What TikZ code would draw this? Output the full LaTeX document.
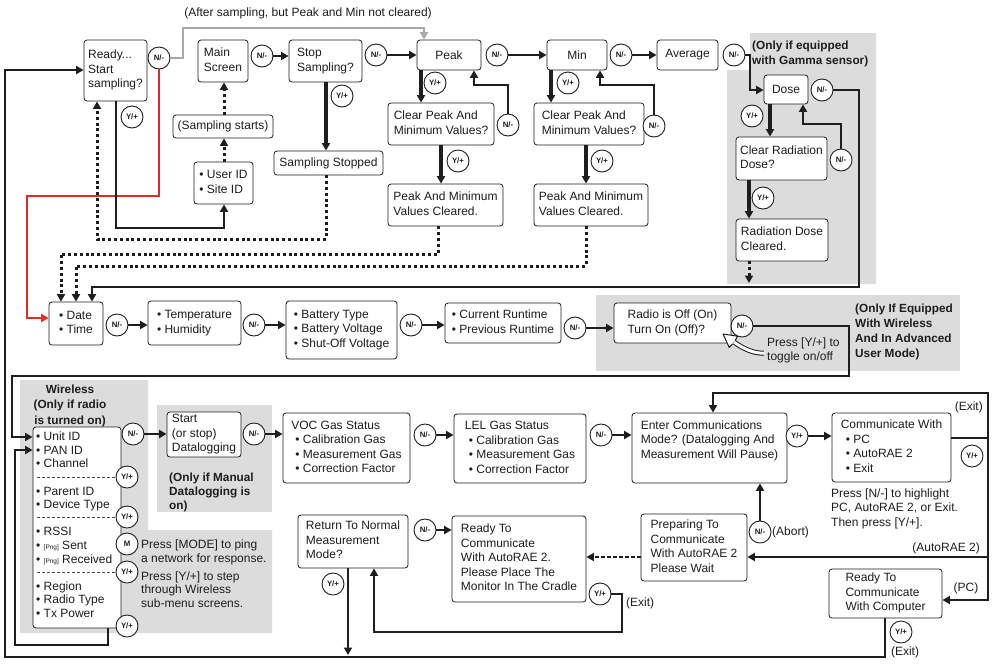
\documentclass[tikz,border=0pt]{standalone}
\usepackage{fontspec}
\setmainfont{Liberation Sans}
\usetikzlibrary{arrows.meta}
\definecolor{redl}{RGB}{222,45,38}
\definecolor{grayfill}{RGB}{220,220,220}
\definecolor{grayline}{RGB}{168,168,168}
\definecolor{ink}{RGB}{30,30,30}
\newcommand\lns[1]{\begin{tabular}{@{}l@{}}#1\end{tabular}}
\newcommand\clns[1]{\begin{tabular}{@{}c@{}}#1\end{tabular}}
\newcommand\bx[6]{\node[box, minimum width={#4-#2}, minimum height={#5-#3}] (#1) at ({(#2+#4)/2},{(#3+#5)/2}) {#6};}
\newcommand\btn[4]{\node[btn] (#1) at (#2,#3) {#4};}
\newcommand\png{{\fontsize{6.5}{7}\selectfont[Png]}}
\begin{document}
\begin{tikzpicture}[x=1pt,y=-1pt, font=\fontsize{12}{14.5}\selectfont,
 >={Triangle[length=7.5pt,width=8pt]},
 box/.style={draw=ink, line width=0.8pt, rounded corners=3pt, fill=white, inner sep=0pt, text=ink},
 btn/.style={circle, draw=ink, line width=0.9pt, fill=white, minimum size=22pt, inner sep=0pt, font=\fontsize{7.8}{8}\selectfont\bfseries, text=ink},
 lbl/.style={inner sep=0pt, text=ink},
 blbl/.style={inner sep=0pt, text=ink, font=\fontsize{11.8}{15}\selectfont\bfseries},
 conn/.style={draw=ink, line width=2.2pt, ->},
 tconn/.style={draw=ink, line width=3.2pt, ->},
 lconn/.style={draw=ink, line width=2.5pt, ->},
 dconn/.style={draw=ink, line width=3pt, dash pattern=on 3pt off 2.8pt, ->},
 gconn/.style={draw=grayline, line width=2.6pt, ->},
 rconn/.style={draw=redl, line width=2.6pt, ->},
 dashconn/.style={draw=ink, line width=1.3pt, dash pattern=on 3.5pt off 2.5pt, ->},
 sepline/.style={draw=ink!80, line width=0.6pt, dash pattern=on 3pt off 2pt}]
\useasboundingbox (0,0) rectangle (992,665);
\fill[white] (0,0) rectangle (992,665);
% gray regions
\fill[grayfill] (750,33) -- (876,33) -- (876,284) -- (727,284) -- (727,70) -- (750,70) -- cycle;
\fill[grayfill] (596,295) rectangle (960,371);
\fill[grayfill] (20,380) -- (148,380) -- (148,530) -- (272,530) -- (272,633) -- (20,633) -- cycle;
\fill[grayfill] (157,405) rectangle (272,512);

% boxes row 1
\bx{ready}{84}{40}{147}{101}{\lns{Ready...\\Start\\sampling?}}
\bx{mainscr}{198}{40}{248}{82}{\lns{Main\\Screen}}
\bx{stop}{289}{40}{362}{82}{\lns{Stop\\Sampling?}}
\bx{stopped}{274}{151}{383}{175}{Sampling Stopped}
\bx{sstarts}{173}{115}{273}{138}{(Sampling starts)}
\bx{userid}{194}{162}{253}{204}{\lns{• User ID\\• Site ID}}
\bx{peak}{417}{40}{481}{70}{Peak}
\bx{clra}{388}{103}{494}{145}{\lns{Clear Peak And\\Minimum Values?}}
\bx{clda}{388}{184}{503}{226}{\lns{Peak And Minimum\\Values Cleared.}}
\bx{minb}{547}{40}{607}{70}{Min}
\bx{clrb}{534}{103}{644}{145}{\lns{Clear Peak And\\Minimum Values?}}
\bx{cldb}{534}{184}{648}{226}{\lns{Peak And Minimum\\Values Cleared.}}
\bx{avg}{657}{40}{718}{70}{Average}
\bx{dose}{764}{75}{808}{104}{Dose}
\bx{clrrad}{736}{137}{827}{180}{\lns{Clear Radiation\\Dose?}}
\bx{raddone}{736}{219}{828}{261}{\lns{Radiation Dose\\Cleared.}}
% row 2
\bx{date}{49}{302}{103}{345}{\lns{• Date\\• Time}}
\bx{temp}{148}{301}{241}{345}{\lns{• Temperature\\• Humidity}}
\bx{batt}{286}{301}{397}{359}{\lns{• Battery Type\\• Battery Voltage\\• Shut-Off Voltage}}
\bx{runtime}{445}{303}{561}{343}{\lns{• Current Runtime\\• Previous Runtime}}
\bx{radio}{614}{303}{731}{343}{\lns{Radio is Off (On)\\Turn On (Off)?}}
% row 3
\bx{wbox}{33}{427}{121}{628}{}
\bx{start}{167}{412}{241}{457}{\lns{Start\\(or stop)\\Datalogging}}
\bx{voc}{283}{413}{410}{483}{\lns{VOC Gas Status\\\hspace{4pt}• Calibration Gas\\\hspace{4pt}• Measurement Gas\\\hspace{4pt}• Correction Factor}}
\bx{lel}{454}{414}{586}{483}{\lns{LEL Gas Status\\\hspace{4pt}• Calibration Gas\\\hspace{4pt}• Measurement Gas\\\hspace{4pt}• Correction Factor}}
\bx{enter}{632}{413}{787}{483}{\lns{Enter Communications\\Mode? (Datalogging And\\Measurement Will Pause)\\ \mbox{}}}
\bx{comm}{832}{413}{951}{482}{\lns{Communicate With\\\hspace{5pt}• PC\\\hspace{5pt}• AutoRAE 2\\\hspace{5pt}• Exit}}
\bx{retn}{298}{515}{408}{568}{\lns{Return To Normal\\Measurement\\Mode?}}
\bx{rdyar}{452}{516}{586}{602}{\lns{Ready To\\Communicate\\With AutoRAE 2.\\Please Place The\\Monitor In The Cradle}}
\bx{prep}{641}{514}{747}{581}{\lns{Preparing To\\Communicate\\With AutoRAE 2\\Please Wait}}
\bx{rdypc}{829}{569}{942}{618}{\lns{Ready To\\Communicate\\With Computer}}

\node[lbl, anchor=north west, font=\fontsize{12}{13.6}\selectfont] (wtext) at (36,431) {\lns{• Unit ID\\• PAN ID\\• Channel\\ \mbox{}\\• Parent ID\\• Device Type\\ \mbox{}\\• RSSI\\• \png{} Sent\\• \png{} Received\\ \mbox{}\\• Region\\• Radio Type\\• Tx Power}};

% buttons
\btn{c1}{159}{58}{N/-}
\btn{c2}{132}{117}{Y/+}
\btn{c3}{262}{56}{N/-}
\btn{c4}{342}{96}{Y/+}
\btn{c5}{376}{55}{N/-}
\btn{c6}{435}{83}{Y/+}
\btn{c7}{508}{125}{N/-}
\btn{c8}{458}{161}{Y/+}
\btn{c9}{497}{55}{N/-}
\btn{c10}{568}{83}{Y/+}
\btn{c11}{654}{126}{N/-}
\btn{c12}{602}{161}{Y/+}
\btn{c13}{621}{55}{N/-}
\btn{c14}{734}{55}{N/-}
\btn{c15}{822}{90}{N/-}
\btn{c16}{752}{116}{Y/+}
\btn{c17}{841}{160}{N/-}
\btn{c18}{763}{198}{Y/+}
\btn{c19}{117}{325}{N/-}
\btn{c20}{254}{325}{N/-}
\btn{c21}{411}{325}{N/-}
\btn{c22}{575}{328}{N/-}
\btn{c23}{742}{326}{N/-}
\btn{c24}{133}{434}{N/-}
\btn{wy1}{127}{477}{Y/+}
\btn{wy2}{127}{517}{Y/+}
\btn{wm}{127}{544}{M}
\btn{wy3}{127}{572}{Y/+}
\btn{wy4}{127}{626}{Y/+}
\btn{c30}{254}{434}{N/-}
\btn{c31}{425}{435}{N/-}
\btn{c32}{601}{435}{N/-}
\btn{c33}{797}{436}{Y/+}
\btn{c34}{972}{456}{Y/+}
\btn{c35}{760}{532}{N/-}
\btn{c36}{425}{530}{N/-}
\btn{c37}{333}{584}{Y/+}
\btn{c38}{600}{594}{Y/+}
\btn{c39}{901}{632}{Y/+}

% separators in wireless box
\draw[sepline] (37,477) -- (wy1.west);
\draw[sepline] (37,517) -- (wy2.west);
\draw[sepline] (37,572) -- (wy3.west);

% connectors, top
\draw[gconn] (c1.east) -- (183,58) -- (183,28) -- (424,28) -- (424,28 |- peak.north);
\draw[rconn] (c1.south) -- (159,196) -- (27,196) -- (27,318) -- (27,318 -| date.west);
\draw[lconn] (116,0 |- ready.south) -- (116,228) -- (224,228) -- (224,0 |- userid.south);
\draw[dconn] (224,0 |- userid.north) -- (224,0 |- sstarts.south);
\draw[dconn] (224,0 |- sstarts.north) -- (224,0 |- mainscr.south);
\draw[conn] (c3.east) -- (c3.east -| stop.west);
\draw[tconn] (326,0 |- stop.south) -- (326,0 |- stopped.north);
\draw[dconn] (326,0 |- stopped.south) -- (326,239) -- (97,239) -- (97,0 |- ready.south);
\draw[conn] (c5.east) -- (c5.east -| peak.west);
\draw[tconn] (421,0 |- peak.south) -- (421,0 |- clra.north);
\draw[lconn] (c7.north) -- (508,85) -- (474,85) -- (474,0 |- peak.south);
\draw[tconn] (441,0 |- clra.south) -- (441,0 |- clda.north);
\draw[dconn] (438,0 |- clda.south) -- (438,254) -- (61,254) -- (61,0 |- date.north);
\draw[conn] (c9.east) -- (c9.east -| minb.west);
\draw[tconn] (551,0 |- minb.south) -- (551,0 |- clrb.north);
\draw[lconn] (c11.north) -- (654,85) -- (600,85) -- (600,0 |- minb.south);
\draw[tconn] (586,0 |- clrb.south) -- (586,0 |- cldb.north);
\draw[dconn] (586,0 |- cldb.south) -- (586,266) -- (76,266) -- (76,0 |- date.north);
\draw[conn] (c13.east) -- (c13.east -| avg.west);
\draw[lconn] (c14.east) -- (750,55) -- (750,90) -- (750,90 -| dose.west);
\draw[tconn] (770,0 |- dose.south) -- (770,0 |- clrrad.north);
\draw[lconn] (c15.east) -- (859,90) -- (859,287) -- (92,287) -- (92,0 |- date.north);
\draw[lconn] (c17.north) -- (841,124) -- (803,124) -- (803,0 |- dose.south);
\draw[tconn] (749,0 |- clrrad.south) -- (749,0 |- raddone.north);
\draw[dconn] (749,0 |- raddone.south) -- (749,283);
% row 2
\draw[conn] (c19.east) -- (c19.east -| temp.west);
\draw[conn] (c20.east) -- (c20.east -| batt.west);
\draw[conn] (c21.east) -- (c21.east -| runtime.west);
\draw[conn] (c22.east) -- (c22.east -| radio.west);
\draw[lconn] (c23.east) -- (849,326) -- (849,376) -- (12,376) -- (12,437) -- (12,437 -| wbox.west);
% toggle arrow
\draw[line width=5pt, ink] (764,353) .. controls (754,354) and (742,348) .. (734,342);
\draw[line width=3pt, white] (764.6,353) .. controls (754,354) and (742,348) .. (734,342);
\fill[white] (723,334) -- (737.6,336.2) -- (729.2,347.4) -- cycle;
\draw[ink, line width=1pt, line join=round] (735.5,340) -- (737.6,336.2) -- (723,334) -- (729.2,347.4) -- (732.5,344);
% row 3
\draw[conn] (c24.east) -- (c24.east -| start.west);
\draw[conn] (c30.east) -- (c30.east -| voc.west);
\draw[conn] (c31.east) -- (c31.east -| lel.west);
\draw[conn] (c32.east) -- (c32.east -| enter.west);
\draw[conn] (c33.east) -- (c33.east -| comm.west);
\draw[lconn] (108,0 |- wbox.south) -- (108,645) -- (15,645) -- (15,450) -- (15,450 -| wbox.west);
\coordinate (jn) at (988,438);
\draw[lconn,-] (comm.east |- jn) -- (jn);
\draw[lconn] (jn) -- (988,393) -- (713,393) -- (713,0 |- enter.north);
\draw[lconn] (jn) -- (988,557) -- (988,557 -| prep.east);
\draw[lconn] (988,555) -- (988,600) -- (988,600 -| rdypc.east);
\draw[conn] (c35.north) -- (c35.north |- enter.south);
\draw[dashconn] (prep.west |- 0,557) -- (rdyar.east |- 0,557);
\draw[conn] (c36.east) -- (c36.east -| rdyar.west);
\draw[lconn] (c38.east) -- (622,594) -- (622,632) -- (374,632) -- (374,0 |- retn.south);
\draw[lconn] (348,0 |- retn.south) -- (348,655);
\draw[lconn] (885,0 |- rdypc.south) -- (885,657) -- (5,657) -- (5,70) -- (5,70 -| ready.west);

% labels
\node[lbl] (tafter) at (308,13) {(After sampling, but Peak and Min not cleared)};
\node[blbl, anchor=north west] (tgam) at (752,39) {\lns{(Only if equipped\\with Gamma sensor)}};
\node[blbl, anchor=north west] (twl) at (855,302) {\lns{(Only If Equipped\\With Wireless\\And In Advanced\\User Mode)}};
\node[lbl, anchor=north west] (ttog) at (767,336) {\lns{Press [Y/+] to\\toggle on/off}};
\node[blbl, anchor=north, font=\fontsize{11.8}{15.5}\selectfont\bfseries] (twire) at (70,382) {\clns{Wireless\\(Only if radio\\is turned on)}};
\node[blbl, anchor=north west, font=\fontsize{11.8}{14.3}\selectfont\bfseries] (tman) at (169,471) {\lns{(Only if Manual\\Datalogging is\\on)}};
\node[lbl, anchor=north west, font=\fontsize{12}{14}\selectfont] (tmode) at (141,538) {\lns{Press [MODE] to ping\\a network for response.}};
\node[lbl, anchor=north west, font=\fontsize{12}{13.3}\selectfont] (tstep) at (141,571) {\lns{Press [Y/+] to step\\through Wireless\\sub-menu screens.}};
\node[lbl, anchor=west] (texa) at (626,603) {(Exit)};
\node[lbl, anchor=west] (tabort) at (772,532) {(Abort)};
\node[lbl, anchor=north west] (thl) at (831,487) {\lns{Press [N/-] to highlight\\PC, AutoRAE 2, or Exit.\\Then press [Y/+].}};
\node[lbl, anchor=east] (texb) at (983,407) {(Exit)};
\node[lbl, anchor=east] (tauto) at (980,548) {(AutoRAE 2)};
\node[lbl] (tpc) at (966,588) {(PC)};
\node[lbl] (texc) at (905,652) {(Exit)};
\end{tikzpicture}
\end{document}
